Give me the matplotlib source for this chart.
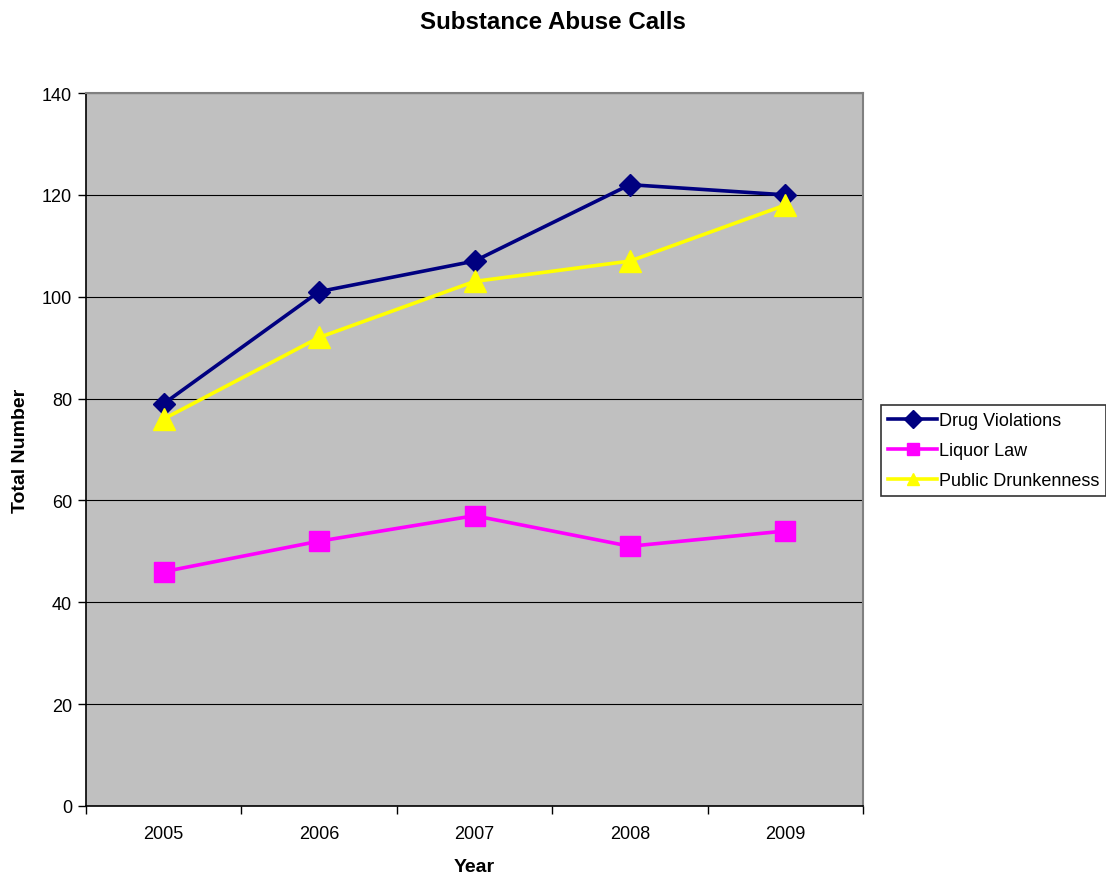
import matplotlib
matplotlib.use("Agg")
import matplotlib.pyplot as plt

plt.rcParams['font.family'] = ['Liberation Sans', 'DejaVu Sans']

years = ['2005', '2006', '2007', '2008', '2009']
drug = [79, 101, 107, 122, 120]
liquor = [46, 52, 57, 51, 54]
public = [76, 92, 103, 107, 118]

fig = plt.figure(figsize=(11.06, 8.78), dpi=100)
ax = fig.add_axes([86/1106, 1-807/878, (863-86)/1106, (807-94)/878])
ax.set_facecolor('#C0C0C0')

x = list(range(len(years)))
ax.plot(x, drug, color='#000080', lw=2.6, marker='D', markersize=11, label='Drug Violations', zorder=3)
ax.plot(x, liquor, color='#FF00FF', lw=2.6, marker='s', markersize=15, label='Liquor Law', zorder=3)
ax.plot(x, public, color='#FFFF00', lw=2.6, marker='^', markersize=16, label='Public Drunkenness', zorder=3)

ax.set_xlim(-0.5, len(years)-0.5)
ax.set_ylim(0, 140)
ax.set_yticks(range(0, 141, 20))
ax.set_xticks(x)
ax.set_xticklabels(years)
ax.set_xticks([i+0.5 for i in range(-1, len(years))], minor=True)
ax.tick_params(axis='x', which='major', length=0, pad=14, labelsize=13)
ax.tick_params(axis='x', which='minor', length=6, width=1, direction='out')
ax.tick_params(axis='y', length=6, width=1, direction='out', labelsize=13, pad=4)
ax.grid(True, axis='y', color='black', lw=0.8)
ax.set_axisbelow(True)

for s in ['top', 'right']:
    ax.spines[s].set_color('#808080')
    ax.spines[s].set_linewidth(1.5)
for s in ['left', 'bottom']:
    ax.spines[s].set_color('black')
    ax.spines[s].set_linewidth(1.2)

ax.set_xlabel('Year', fontsize=14, fontweight='bold', labelpad=11)
ax.set_ylabel('Total Number', fontsize=14, fontweight='bold', labelpad=9)
fig.suptitle('Substance Abuse Calls', fontsize=17.4, fontweight='bold', y=0.988)

leg = fig.legend(loc='upper left', bbox_to_anchor=(881/1106, 1-406/878), fontsize=13,
                 frameon=True, fancybox=False, shadow=False, edgecolor='black',
                 handlelength=2.7, handletextpad=0.1, borderpad=0.4, labelspacing=0.72,
                 borderaxespad=0)
leg.get_frame().set_linewidth(1.2)
for h in leg.legend_handles:
    h.set_markersize(9)

fig.savefig('out.png', dpi=100)
